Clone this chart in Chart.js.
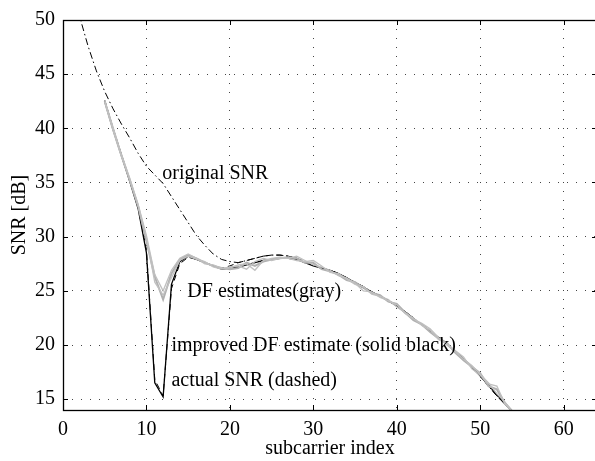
<!DOCTYPE html>
<html>
<head>
<meta charset="utf-8">
<script src="https://cdn.jsdelivr.net/npm/chart.js@4.4.1/dist/chart.umd.min.js"></script>
<style>
  html, body { margin: 0; padding: 0; background: #fff; overflow: hidden; width: 595px; height: 461px; }
  canvas { display: block; }
</style>
</head>
<body>
<canvas id="snrChart" width="600" height="461"></canvas>
<script>
// subcarrier index 1..56
const subcarriers = [1, 2, 3, 4, 5, 6, 7, 8, 9, 10, 11, 12, 13, 14, 15, 16, 17, 18, 19, 20,
    21, 22, 23, 24, 25, 26, 27, 28, 29, 30, 31, 32, 33, 34, 35, 36, 37, 38, 39, 40,
    41, 42, 43, 44, 45, 46, 47, 48, 49, 50, 51, 52, 53, 54, 55, 56];

const originalSnr = [53.5, 50.3, 47.6, 45.3, 43.4, 41.8, 40.4, 39.1, 37.7, 36.5, 35.7, 34.9, 33.7, 32.5, 31.3, 30.1, 29.2, 28.4, 27.9, 27.7,
    27.6, 27.8, 28.0, 28.2, 28.3, 28.3, 28.2, 28.0, 27.7, 27.4, 27.1, 26.9, 26.6, 26.2, 25.8, 25.4, 24.9, 24.5, 24.1, 23.6,
    23.1, 22.5, 21.9, 21.3, 20.7, 20.1, 19.4, 18.7, 17.9, 17.1, 16.2, 15.3, 14.5, 13.7, 12.8, 11.9];

const actualSnr = [null, null, null, null, 42.6, 40.0, 37.6, 35.2, 32.7, 28.8, 16.8, 15.3, 25.2, 27.5, 28.1, 27.9, 27.6, 27.3, 27.1, 27.3,
    27.6, 27.8, 28.0, 28.2, 28.3, 28.3, 28.2, 28.0, 27.7, 27.4, 27.1, 26.9, 26.6, 26.2, 25.8, 25.4, 24.9, 24.5, 24.1, 23.6,
    23.1, 22.5, 21.9, 21.3, 20.7, 20.1, 19.4, 18.7, 17.9, 17.1, 16.2, 15.3, 14.5, 13.7, 12.8, 11.9];

const improvedDf = [null, null, null, null, 42.5, 39.9, 37.5, 35.1, 32.6, 28.5, 16.5, 15.2, 25.6, 27.7, 28.2, 27.9, 27.6, 27.3, 27.0, 27.1,
    27.2, 27.4, 27.6, 27.8, 27.9, 28.0, 28.0, 27.9, 27.6, 27.3, 27.1, 26.9, 26.6, 26.2, 25.7, 25.3, 24.9, 24.5, 24.1, 23.6,
    23.0, 22.4, 21.9, 21.3, 20.7, 20.1, 19.4, 18.7, 18.0, 17.2, 16.3, 15.4, 14.6, 13.8, 12.9, 12.0];

// several DF estimates (gray)
const dfEstA = [null, null, null, null, 42.5, 39.9, 37.5, 35.2, 32.8, 29.6, 26.3, 24.2, 26.6, 27.9, 28.3, 28.0, 27.6, 27.3, 27.1, 27.0,
    27.1, 27.6, 27.3, 27.7, 27.9, 28.0, 28.1, 28.0, 27.6, 27.6, 27.0, 26.8, 26.5, 26.0, 25.8, 25.3, 24.8, 24.6, 24.0, 23.8,
    23.0, 22.3, 21.9, 21.2, 20.6, 20.2, 19.3, 18.6, 18.0, 17.4, 16.2, 15.9, 14.6, 13.7, 12.8, 11.9];
const dfEstB = [null, null, null, null, 42.4, 39.8, 37.4, 35.3, 32.9, 29.9, 25.8, 24.6, 26.2, 27.8, 28.2, 27.9, 27.7, 27.2, 27.0, 27.2,
    27.3, 27.0, 27.7, 28.0, 27.8, 28.0, 28.0, 27.8, 27.7, 27.8, 27.3, 26.7, 26.6, 26.1, 25.6, 25.4, 24.7, 24.5, 24.2, 23.5,
    23.0, 22.5, 21.8, 21.4, 20.5, 20.1, 19.5, 18.9, 17.8, 17.2, 16.4, 16.2, 14.5, 13.8, 12.9, 12.0];
const dfEstC = [null, null, null, null, 42.6, 40.1, 37.6, 35.4, 33.0, 30.1, 26.5, 25.0, 26.9, 28.0, 28.4, 28.0, 27.5, 27.4, 27.1, 27.1,
    27.4, 27.5, 26.9, 27.8, 28.0, 28.1, 28.0, 28.2, 27.8, 27.4, 27.2, 26.9, 26.4, 26.2, 25.7, 25.0, 24.9, 24.4, 24.1, 23.7,
    22.9, 22.4, 22.0, 21.5, 20.7, 20.0, 19.4, 18.7, 18.1, 17.3, 16.5, 15.5, 14.7, 13.7, 12.8, 11.9];

const xTicks = [0, 10, 20, 30, 40, 50, 60];
const yTicks = [15, 20, 25, 30, 35, 40, 45, 50];

// text labels inside the plot, placed at data coordinates
const notes = [
    { text: 'original SNR', x: 11.9, y: 35.8 },
    { text: 'DF estimates(gray)', x: 14.9, y: 24.9 },
    { text: 'improved DF estimate (solid black)', x: 13.0, y: 19.9 },
    { text: 'actual SNR (dashed)', x: 13.0, y: 16.7 }
];

const toPoints = values => subcarriers.map((x, i) => ({ x: x, y: values[i] }));

const serif = '"Liberation Serif", "Times New Roman", serif';
Chart.defaults.font.family = serif;
Chart.defaults.font.size = 20;
Chart.defaults.color = '#000';

const frameAndNotes = {
    id: 'frameAndNotes',
    afterDatasetsDraw(chart) {
        const { ctx, chartArea: a, scales: { x, y } } = chart;
        ctx.save();
        ctx.strokeStyle = '#000';
        ctx.lineWidth = 1;
        ctx.setLineDash([]);
        ctx.beginPath();
        x.ticks.forEach(t => {
            const px = Math.round(x.getPixelForValue(t.value)) + 0.5;
            ctx.moveTo(px, a.bottom); ctx.lineTo(px, a.bottom - 5);
            ctx.moveTo(px, a.top); ctx.lineTo(px, a.top + 5);
        });
        y.ticks.forEach(t => {
            const py = Math.round(y.getPixelForValue(t.value)) + 0.5;
            ctx.moveTo(a.left, py); ctx.lineTo(a.left + 5, py);
            ctx.moveTo(a.right, py); ctx.lineTo(a.right - 5, py);
        });
        ctx.stroke();
        ctx.lineWidth = 1.3;
        ctx.strokeRect(Math.round(a.left) + 0.5, Math.round(a.top) + 0.5,
            Math.round(a.right - a.left), Math.round(a.bottom - a.top));

        ctx.font = '20px ' + serif;
        ctx.fillStyle = '#000';
        ctx.textAlign = 'left';
        ctx.textBaseline = 'middle';
        notes.forEach(n => ctx.fillText(n.text, x.getPixelForValue(n.x), y.getPixelForValue(n.y)));
        ctx.restore();
    }
};

const gray = (data, width, color) => ({
    data: toPoints(data), borderColor: color, borderWidth: width,
    pointRadius: 0, tension: 0, fill: false
});

new Chart(document.getElementById('snrChart'), {
    type: 'line',
    data: {
        datasets: [
            gray(dfEstB, 1.3, '#c0c0c0'),
            gray(dfEstC, 1.3, '#c0c0c0'),
            gray(dfEstA, 2, '#b0b0b0'),
            {
                label: 'original SNR',
                data: toPoints(originalSnr),
                borderColor: '#000', borderWidth: 1,
                borderDash: [7, 3, 1.5, 3],
                pointRadius: 0, tension: 0, fill: false
            },
            {
                label: 'actual SNR',
                data: toPoints(actualSnr),
                borderColor: '#000', borderWidth: 1,
                borderDash: [6, 4],
                pointRadius: 0, tension: 0, fill: false
            },
            {
                label: 'improved DF estimate',
                data: toPoints(improvedDf),
                borderColor: '#000', borderWidth: 1.3,
                pointRadius: 0, tension: 0, fill: false
            }
        ]
    },
    options: {
        responsive: false,
        animation: false,
        layout: { padding: { top: 14, right: 3, left: 0, bottom: 0 } },
        plugins: { legend: { display: false }, tooltip: { enabled: false } },
        scales: {
            x: {
                type: 'linear',
                min: 0, max: 64,
                afterBuildTicks: s => { s.ticks = xTicks.map(v => ({ value: v })); },
                afterFit: s => { s.height = 51; },
                grid: { color: '#444', lineWidth: 1, drawTicks: false },
                border: { display: false, dash: [1, 8] },
                ticks: { padding: 8, maxRotation: 0 },
                title: { display: true, text: 'subcarrier index', padding: { top: 0, bottom: 0 } }
            },
            y: {
                type: 'linear',
                min: 14, max: 50,
                afterBuildTicks: s => { s.ticks = yTicks.map(v => ({ value: v })); },
                afterFit: s => { s.width = 63; },
                grid: { color: '#444', lineWidth: 1, drawTicks: false },
                border: { display: false, dash: [1, 8] },
                ticks: { padding: 8 },
                title: { display: true, text: 'SNR [dB]', padding: { top: 8, bottom: 0 } }
            }
        }
    },
    plugins: [frameAndNotes]
});
</script>
</body>
</html>
